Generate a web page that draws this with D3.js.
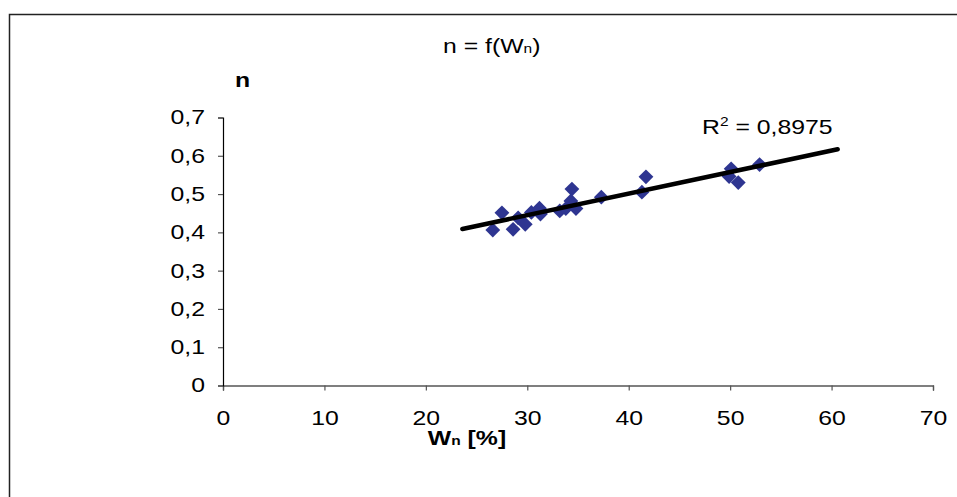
<!DOCTYPE html>
<html>
<head>
<meta charset="utf-8">
<script src="https://cdn.jsdelivr.net/npm/d3@7"></script>
<style>
  html, body { margin: 0; padding: 0; background: #fff; }
  svg { display: block; font-family: "Liberation Sans", Arial, sans-serif; }
</style>
</head>
<body>
<svg id="chart" width="957" height="497"></svg>
<script>
// Measured moisture content W_n [%] and exponent n
const wValues = [26.6, 27.5, 28.6, 29.1, 29.8, 30.4, 31.2, 31.3, 33.2, 33.8,
                 34.3, 34.4, 34.8, 37.3, 41.3, 41.7, 49.9, 50.1, 50.8, 52.9];
const nValues = [0.406, 0.451, 0.408, 0.438, 0.421, 0.452, 0.463, 0.448, 0.456, 0.462,
                 0.482, 0.513, 0.462, 0.492, 0.505, 0.545, 0.546, 0.566, 0.530, 0.577];
const xTicks = [0, 10, 20, 30, 40, 50, 60, 70];
const yTicks = [0, 0.1, 0.2, 0.3, 0.4, 0.5, 0.6, 0.7];
const rSquaredText = "0,8975";
// Trendline extension (backward / forward) in W units
const trendBackward = 3;
const trendForward = 7.7;

// The chart text is set slightly widened
const FONT = "20px";
const SUB = "12.5px";
const SX = 1.24;

const svg = d3.select("#chart");

// outer frame
svg.append("rect")
  .attr("x", 9.5).attr("y", 14.5)
  .attr("width", 960).attr("height", 500)
  .attr("fill", "none").attr("stroke", "#222").attr("stroke-width", 1.5);

const x = d3.scaleLinear().domain([0, 70]).range([223, 933]);
const y = d3.scaleLinear().domain([0, 0.7]).range([385.5, 117.5]);

const yFmt = d => d === 0 ? "0" : d3.format(".1f")(d).replace(".", ",");

// x axis
const gx = svg.append("g")
  .attr("transform", `translate(0,${y(0)})`)
  .call(d3.axisBottom(x).tickValues(xTicks).tickSize(5).tickPadding(20).tickFormat(d3.format("d")));
// y axis
const gy = svg.append("g")
  .attr("transform", `translate(${x(0)},0)`)
  .call(d3.axisLeft(y).tickValues(yTicks).tickSize(5).tickPadding(9.5).tickFormat(yFmt));

[gx, gy].forEach(g => {
  g.select(".domain").attr("stroke", "#000").attr("stroke-width", 1.2);
  g.selectAll(".tick line").attr("stroke", "#555").attr("stroke-width", 1.2);
  g.selectAll(".tick text").attr("fill", "#000")
    .attr("transform", `scale(${SX},1)`)
    .style("font-size", FONT).style("font-family", "'Liberation Sans', Arial, sans-serif");
});

// markers
const pts = wValues.map((w, i) => ({ w, n: nValues[i] }));
const diamond = d3.symbol().type(d3.symbolSquare).size(110);
svg.append("g").selectAll("path")
  .data(pts).enter().append("path")
  .attr("d", diamond)
  .attr("transform", d => `translate(${x(d.w)},${y(d.n)}) rotate(45)`)
  .attr("fill", "#2E3591");

// least-squares linear trendline
const mw = d3.mean(wValues), mn = d3.mean(nValues);
let sxy = 0, sxx = 0;
pts.forEach(p => { sxy += (p.w - mw) * (p.n - mn); sxx += (p.w - mw) ** 2; });
const slope = sxy / sxx, intercept = mn - slope * mw;
const w0 = d3.min(wValues) - trendBackward, w1 = d3.max(wValues) + trendForward;
svg.append("line")
  .attr("x1", x(w0)).attr("y1", y(intercept + slope * w0))
  .attr("x2", x(w1)).attr("y2", y(intercept + slope * w1))
  .attr("stroke", "#000").attr("stroke-width", 4.5).attr("stroke-linecap", "round");

function label(px, py, anchor) {
  return svg.append("text")
    .attr("transform", `translate(${px},${py}) scale(${SX},1)`)
    .attr("text-anchor", anchor || "start")
    .style("font-size", FONT).attr("fill", "#000");
}

// title
const title = label(443, 52.5);
title.append("tspan").text("n = f(W");
title.append("tspan").style("font-size", SUB).text("n");
title.append("tspan").text(")");

// axis titles
label(235, 86.5).style("font-weight", "bold").text("n");

const xt = label(467, 445, "middle").style("font-weight", "bold");
xt.append("tspan").text("W");
xt.append("tspan").style("font-size", SUB).text("n");
xt.append("tspan").text(" [%]");

// R² label
const rl = label(702, 133.5);
rl.append("tspan").text("R");
rl.append("tspan").attr("dy", -8).style("font-size", SUB).text("2");
rl.append("tspan").attr("dy", 8).text(" = " + rSquaredText);
</script>
</body>
</html>
